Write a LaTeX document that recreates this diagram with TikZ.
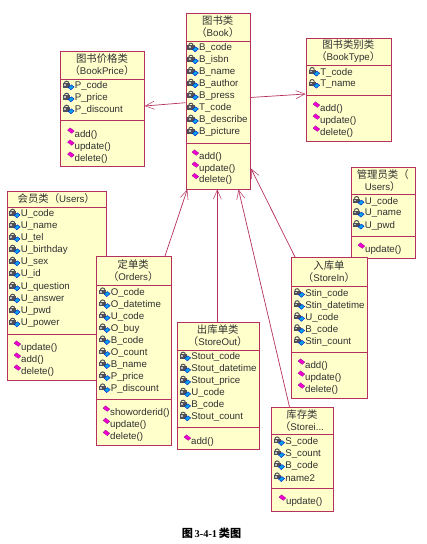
\documentclass[tikz,border=0pt]{standalone}
\usepackage{fontspec}
\setmainfont{Liberation Sans}
\newfontfamily\cjk[Scale=1.07]{Noto Sans CJK SC}
\newfontfamily\capserif{Liberation Serif}
\usetikzlibrary{arrows.meta}
\definecolor{umlfill}{HTML}{FFFFCC}
\definecolor{umlline}{HTML}{B5305F}
\definecolor{umlshade}{HTML}{E0A8B8}
\definecolor{umltext}{HTML}{303030}
\definecolor{lockgrey}{HTML}{505058}
\definecolor{opmagenta}{HTML}{F000D0}
\tikzset{
  classbox/.style={draw=umlline,fill=umlfill,line width=0.9pt,inner sep=0pt},
  divider/.style={draw=umlline,line width=0.9pt},
  shadeline/.style={draw=umlshade,line width=1pt},
  txt/.style={inner sep=0pt,anchor=west,font=\fontsize{9.7}{10}\selectfont,text=umltext},
  ttl/.style={inner sep=0pt,anchor=center,align=center,font=\fontsize{9.7}{12}\selectfont,text=umltext},
  assoc/.style={draw=umlline,line width=0.7pt,-{Straight Barb[length=9pt,width=8pt,line width=0.5pt]}},
}
\newcommand{\umlclass}[9]{%
  \draw[shadeline] (#4+0.9,#3+1) -- (#4+0.9,#5+0.9) -- (#2+1,#5+0.9);
  \node[classbox,minimum width={(#4-#2)*1pt},anchor=north west,minimum height={(#5-#3)*1pt}] (#1) at (#2,#3) {};
  \draw[divider] (#2,#6) -- (#4,#6);
  \draw[divider] (#2,#7) -- (#4,#7);
  \node[ttl,text width={(#4-#2-4)*1pt}] (#1title) at ({(#2+#4)/2},{(#3+#6)/2}) {#8};
  #9
}
\newcommand{\attr}[4]{%
  \fill[lockgrey] (#2,#3-2.6) rectangle (#2+7.2,#3+1.5);
  \fill[black!25] (#2+1.2,#3-1.8) rectangle (#2+3.2,#3-0.2);
  \draw[lockgrey,line width=1pt] (#2+1.4,#3-2.6) arc (180:360:2.2);
  \fill[cyan!90!blue,draw=blue!80!black,line width=0.3pt] (#2+5,#3+1.4) -- (#2+8.4,#3-1.2) -- (#2+11.2,#3+0.9) -- (#2+7.8,#3+3.9) -- cycle;
  \node[txt] (#1) at (#2+11.6,#3+0.3) {#4};
}
\newcommand{\oper}[4]{%
  \fill[opmagenta,draw=violet,line width=0.2pt] (#2,#3-1.8) -- (#2+2.5,#3-4.2) -- (#2+6.8,#3-1) -- (#2+4.3,#3+1.4) -- cycle;
  \node[txt] (#1) at (#2+7,#3+2.6) {#4};
}
\begin{document}
\begin{tikzpicture}[x=1pt,y=-1pt]
\useasboundingbox (0,0) rectangle (427,544);
\fill[white] (0,0) rectangle (427,544);

\umlclass{users}{6.5}{191}{106}{380}{207}{334.5}{{\cjk 会员类（}Users{\cjk ）}}{%
  \attr{ua}{9}{214}{U\_code}\attr{ub}{9}{226}{U\_name}\attr{uc}{9}{238}{U\_tel}\attr{ud}{9}{250}{U\_birthday}\attr{ue}{9}{262}{U\_sex}\attr{uf}{9}{274}{U\_id}\attr{ug}{9}{287}{U\_question}\attr{uh}{9}{299}{U\_answer}\attr{ui}{9}{311}{U\_pwd}\attr{uj}{9}{323}{U\_power}%
  \oper{uk}{14}{345}{update()}\oper{ul}{14}{357}{add()}\oper{um}{14}{369}{delete()}}

\umlclass{book}{185.5}{13}{250}{189}{41}{143.5}{{\cjk 图书类}\\{\cjk （}Book{\cjk ）}}{%
  \attr{ba}{187.3}{48}{B\_code}\attr{bb}{187.3}{60}{B\_isbn}\attr{bc}{187.3}{72}{B\_name}\attr{bd}{187.3}{84}{B\_author}\attr{be}{187.3}{96}{B\_press}\attr{bf}{187.3}{108}{T\_code}\attr{bg}{187.3}{120}{B\_describe}\attr{bh}{187.3}{132}{B\_picture}%
  \oper{bi}{192}{154}{add()}\oper{bj}{192}{166}{update()}\oper{bk}{192}{177.5}{delete()}}

\umlclass{price}{60}{50.5}{144}{166}{79}{120.5}{{\cjk 图书价格类}\\{\cjk （}BookPrice{\cjk ）}}{%
  \attr{pa}{63}{86}{P\_code}\attr{pb}{63}{98}{P\_price}\attr{pc}{63}{110}{P\_discount}%
  \oper{pd}{67.5}{132}{add()}\oper{pe}{67.5}{144}{update()}\oper{pf}{67.5}{156}{delete()}}

\umlclass{btype}{305.5}{37.5}{391}{141}{65}{95}{{\cjk 图书类别类}\\{\cjk （}BookType{\cjk ）}}{%
  \attr{ta}{308.5}{72.3}{T\_code}\attr{tb}{308.5}{84.3}{T\_name}%
  \oper{tc}{313}{106}{add()}\oper{td}{313}{118}{update()}\oper{te}{313}{130}{delete()}}

\umlclass{admin}{350.5}{166.5}{415}{257.5}{194}{236}{{\cjk 管理员类（}\\Users{\cjk ）}}{%
  \attr{aa}{353}{201.3}{U\_code}\attr{ab}{353}{213.3}{U\_name}\attr{ac}{353}{225.3}{U\_pwd}%
  \oper{ad}{358}{247}{update()}}

\umlclass{orders}{96}{256}{170.5}{445}{285.5}{399.5}{{\cjk 定单类}\\{\cjk （}Orders{\cjk ）}}{%
  \attr{oa}{99}{292.7}{O\_code}\attr{ob}{99}{304.7}{O\_datetime}\attr{oc}{99}{316.7}{U\_code}\attr{od}{99}{328.7}{O\_buy}\attr{oe}{99}{340.7}{B\_code}\attr{of}{99}{352.7}{O\_count}\attr{og}{99}{364.7}{B\_name}\attr{oh}{99}{376.7}{P\_price}\attr{oi}{99}{388.7}{P\_discount}%
  \oper{oj}{103}{410}{showorderid()}\oper{ok}{103}{422.3}{update()}\oper{ol}{103}{434.3}{delete()}}

\umlclass{storeout}{176.5}{321.5}{259}{449}{350.5}{427.5}{{\cjk 出库单类}\\{\cjk （}StoreOut{\cjk ）}}{%
  \attr{sa}{179.5}{357}{Stout\_code}\attr{sb}{179.5}{369}{Stout\_datetime}\attr{sc}{179.5}{381}{Stout\_price}\attr{sd}{179.5}{393}{U\_code}\attr{se}{179.5}{405}{B\_code}\attr{sf}{179.5}{417}{Stout\_count}%
  \oper{sg}{184}{439}{add()}}

\umlclass{storein}{291}{257}{367}{398}{286.5}{352.5}{{\cjk 入库单}\\{\cjk （}StoreIn{\cjk ）}}{%
  \attr{ia}{293.5}{293.5}{Stin\_code}\attr{ib}{293.5}{305.5}{Stin\_datetime}\attr{ic}{293.5}{317.5}{U\_code}\attr{id}{293.5}{329.5}{B\_code}\attr{ie}{293.5}{341.5}{Stin\_count}%
  \oper{if}{298}{363}{add()}\oper{ig}{298}{375}{update()}\oper{ih}{298}{387}{delete()}}

\umlclass{storei}{271}{407}{333}{510.5}{434.5}{488}{{\cjk 库存类}\\{\cjk （}Storei...}{%
  \attr{ka}{273.5}{441.7}{S\_code}\attr{kb}{273.5}{453.7}{S\_count}\attr{kc}{273.5}{465.7}{B\_code}\attr{kd}{273.5}{477.7}{name2}%
  \oper{ke}{279}{499}{update()}}

\coordinate (pend) at (144.7,106);
\coordinate (pstart) at (185.5,102.7);
\draw[assoc] (pstart) -- (pend);
\coordinate (tstart) at (250,97.5);
\coordinate (tend) at (305.5,94);
\draw[assoc] (tstart) -- (tend);
\coordinate (os) at (165,256); \coordinate (oe) at (187.3,189.5);
\draw[assoc] (os) -- (oe);
\coordinate (ss) at (217.3,321.5); \coordinate (se) at (217.3,189.5);
\draw[assoc] (ss) -- (se);
\coordinate (ks) at (289.5,407); \coordinate (ke) at (238.5,189.5);
\draw[assoc] (ks) -- (ke);
\coordinate (is) at (295,257); \coordinate (ie) at (251,168.5);
\draw[assoc] (is) -- (ie);

\node[inner sep=0pt,font=\fontsize{10.4}{12}\selectfont] (cap) at (211.5,533) {{\cjk\bfseries 图}\,{\capserif\bfseries 3-4-1}\,{\cjk\bfseries 类图}};
\end{tikzpicture}
\end{document}
